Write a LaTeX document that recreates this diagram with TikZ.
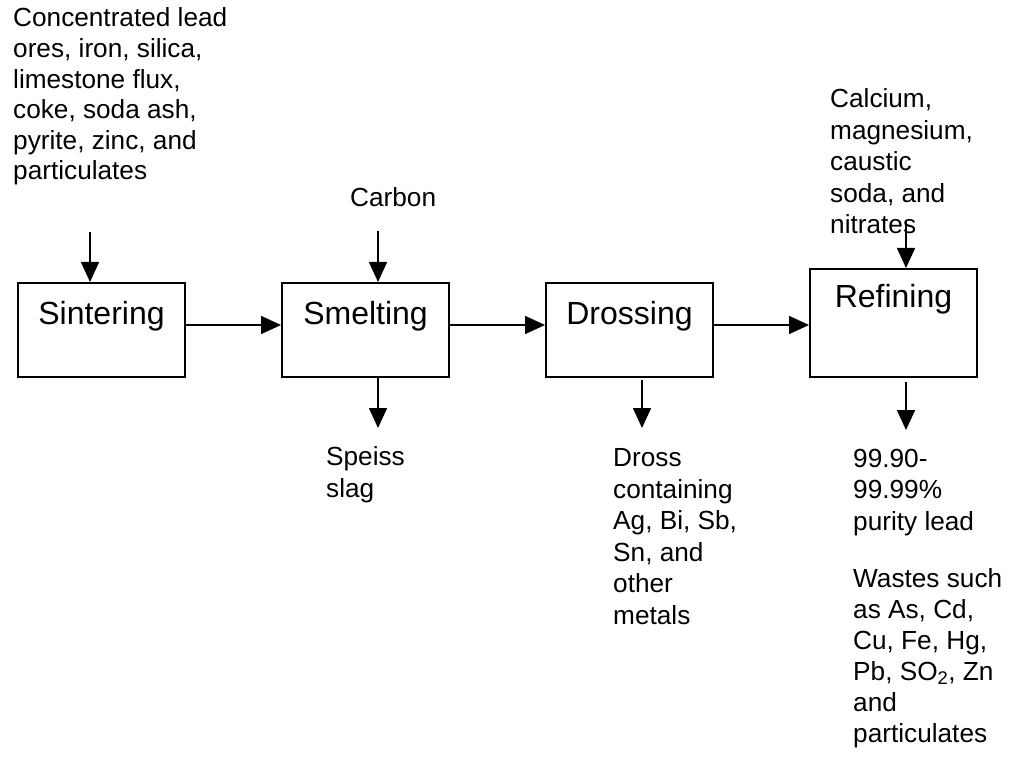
\documentclass[tikz,border=0pt]{standalone}
\usepackage{fontspec}
\setmainfont{Liberation Sans}
\usetikzlibrary{arrows.meta}
\usetikzlibrary{positioning}
\tikzset{
    procbox/.style={
           rectangle,
           draw=black, line width=2pt,
           minimum width=167pt,
           inner sep=0pt,
           text height=41pt,
           text depth=53pt,
           font=\fontsize{32pt}{38pt}\selectfont,
           },
    stream/.style={
           inner sep=0pt,
           anchor=base west,  % base = baseline of the last line
           align=left,
           font=\fontsize{26.2pt}{31.5pt}\selectfont,
           },
    flow/.style={->, line width=1.6pt},
}

\begin{document}
\begin{tikzpicture}[x=1pt,y=-1pt,>={Triangle[length=20pt,width=18pt]}]

 \useasboundingbox (0,0) rectangle (1009,759);

 % the four process boxes, left to right
 % text height/depth put the label near the top of each box
 \node[procbox] (Sintering) at (101.5,330) {Sintering};
 \node[procbox, right=95pt of Sintering] (Smelting) {Smelting};
 \node[procbox, right=95pt of Smelting] (Drossing) {Drossing};
 \node[procbox,
  text height=39pt,  % taller box, label higher up
  text depth=69pt,
  anchor=south west] (Refining) at ([xshift=95pt]Drossing.south east) {Refining};

 % inputs (above) and outputs (below)
 \node[stream, font=\fontsize{26.2pt}{30.6pt}\selectfont] (Feed) at (13,180)
 {Concentrated lead\\ores, iron, silica,\\limestone flux,\\coke, soda ash,\\pyrite, zinc, and\\particulates};
 \node[stream] (Carbon) at (350,207) {Carbon};
 \node[stream] (Additives) at (830,234)
 {Calcium,\\magnesium,\\caustic\\soda, and\\nitrates};
 \node[stream] (Speiss) at (326,497) {Speiss\\slag};
 \node[stream] (Dross) at (613,624)
 {Dross\\containing\\Ag, Bi, Sb,\\Sn, and\\other\\metals};
 \node[stream] (Lead) at (853,530) {99.90-\\99.99\%\\purity lead};
 \node[stream, font=\fontsize{26.2pt}{31pt}\selectfont] (Wastes) at (853,742)
 {Wastes such\\as As, Cd,\\Cu, Fe, Hg,\\Pb, SO\textsubscript{2}, Zn\\and\\particulates};

 % free ends of the feed and product arrows
 \coordinate (Sintering in) at (90,232);
 \coordinate (Smelting in) at (378,231);
 \coordinate (Refining in) at (906,220);
 \coordinate (Smelting out) at (378,428);
 \coordinate (Drossing out) at (642,428);
 \coordinate (Refining out) at (906,430);

 % main line through the boxes
 \draw[flow] ([yshift=5pt]Sintering.east) -- ([yshift=5pt]Smelting.west);
 \draw[flow] ([yshift=5pt]Smelting.east) -- ([yshift=5pt]Drossing.west);
 \draw[flow] ([yshift=5pt]Drossing.east) -- ([yshift=5pt]Drossing.east -| Refining.west);

 % feeds
 \draw[flow] (Sintering in) -- (Sintering in |- Sintering.north);
 \draw[flow] (Smelting in) -- (Smelting in |- Smelting.north);
 \draw[flow] (Refining in) -- (Refining in |- Refining.north);

 % products
 \draw[flow] (Smelting out |- Smelting.south) -- (Smelting out);
 \draw[flow] ([yshift=-2pt]Drossing out |- Drossing.south) -- (Drossing out);
 \draw[flow] ([yshift=-4pt]Refining out |- Refining.south) -- (Refining out);

\end{tikzpicture}
\end{document}
